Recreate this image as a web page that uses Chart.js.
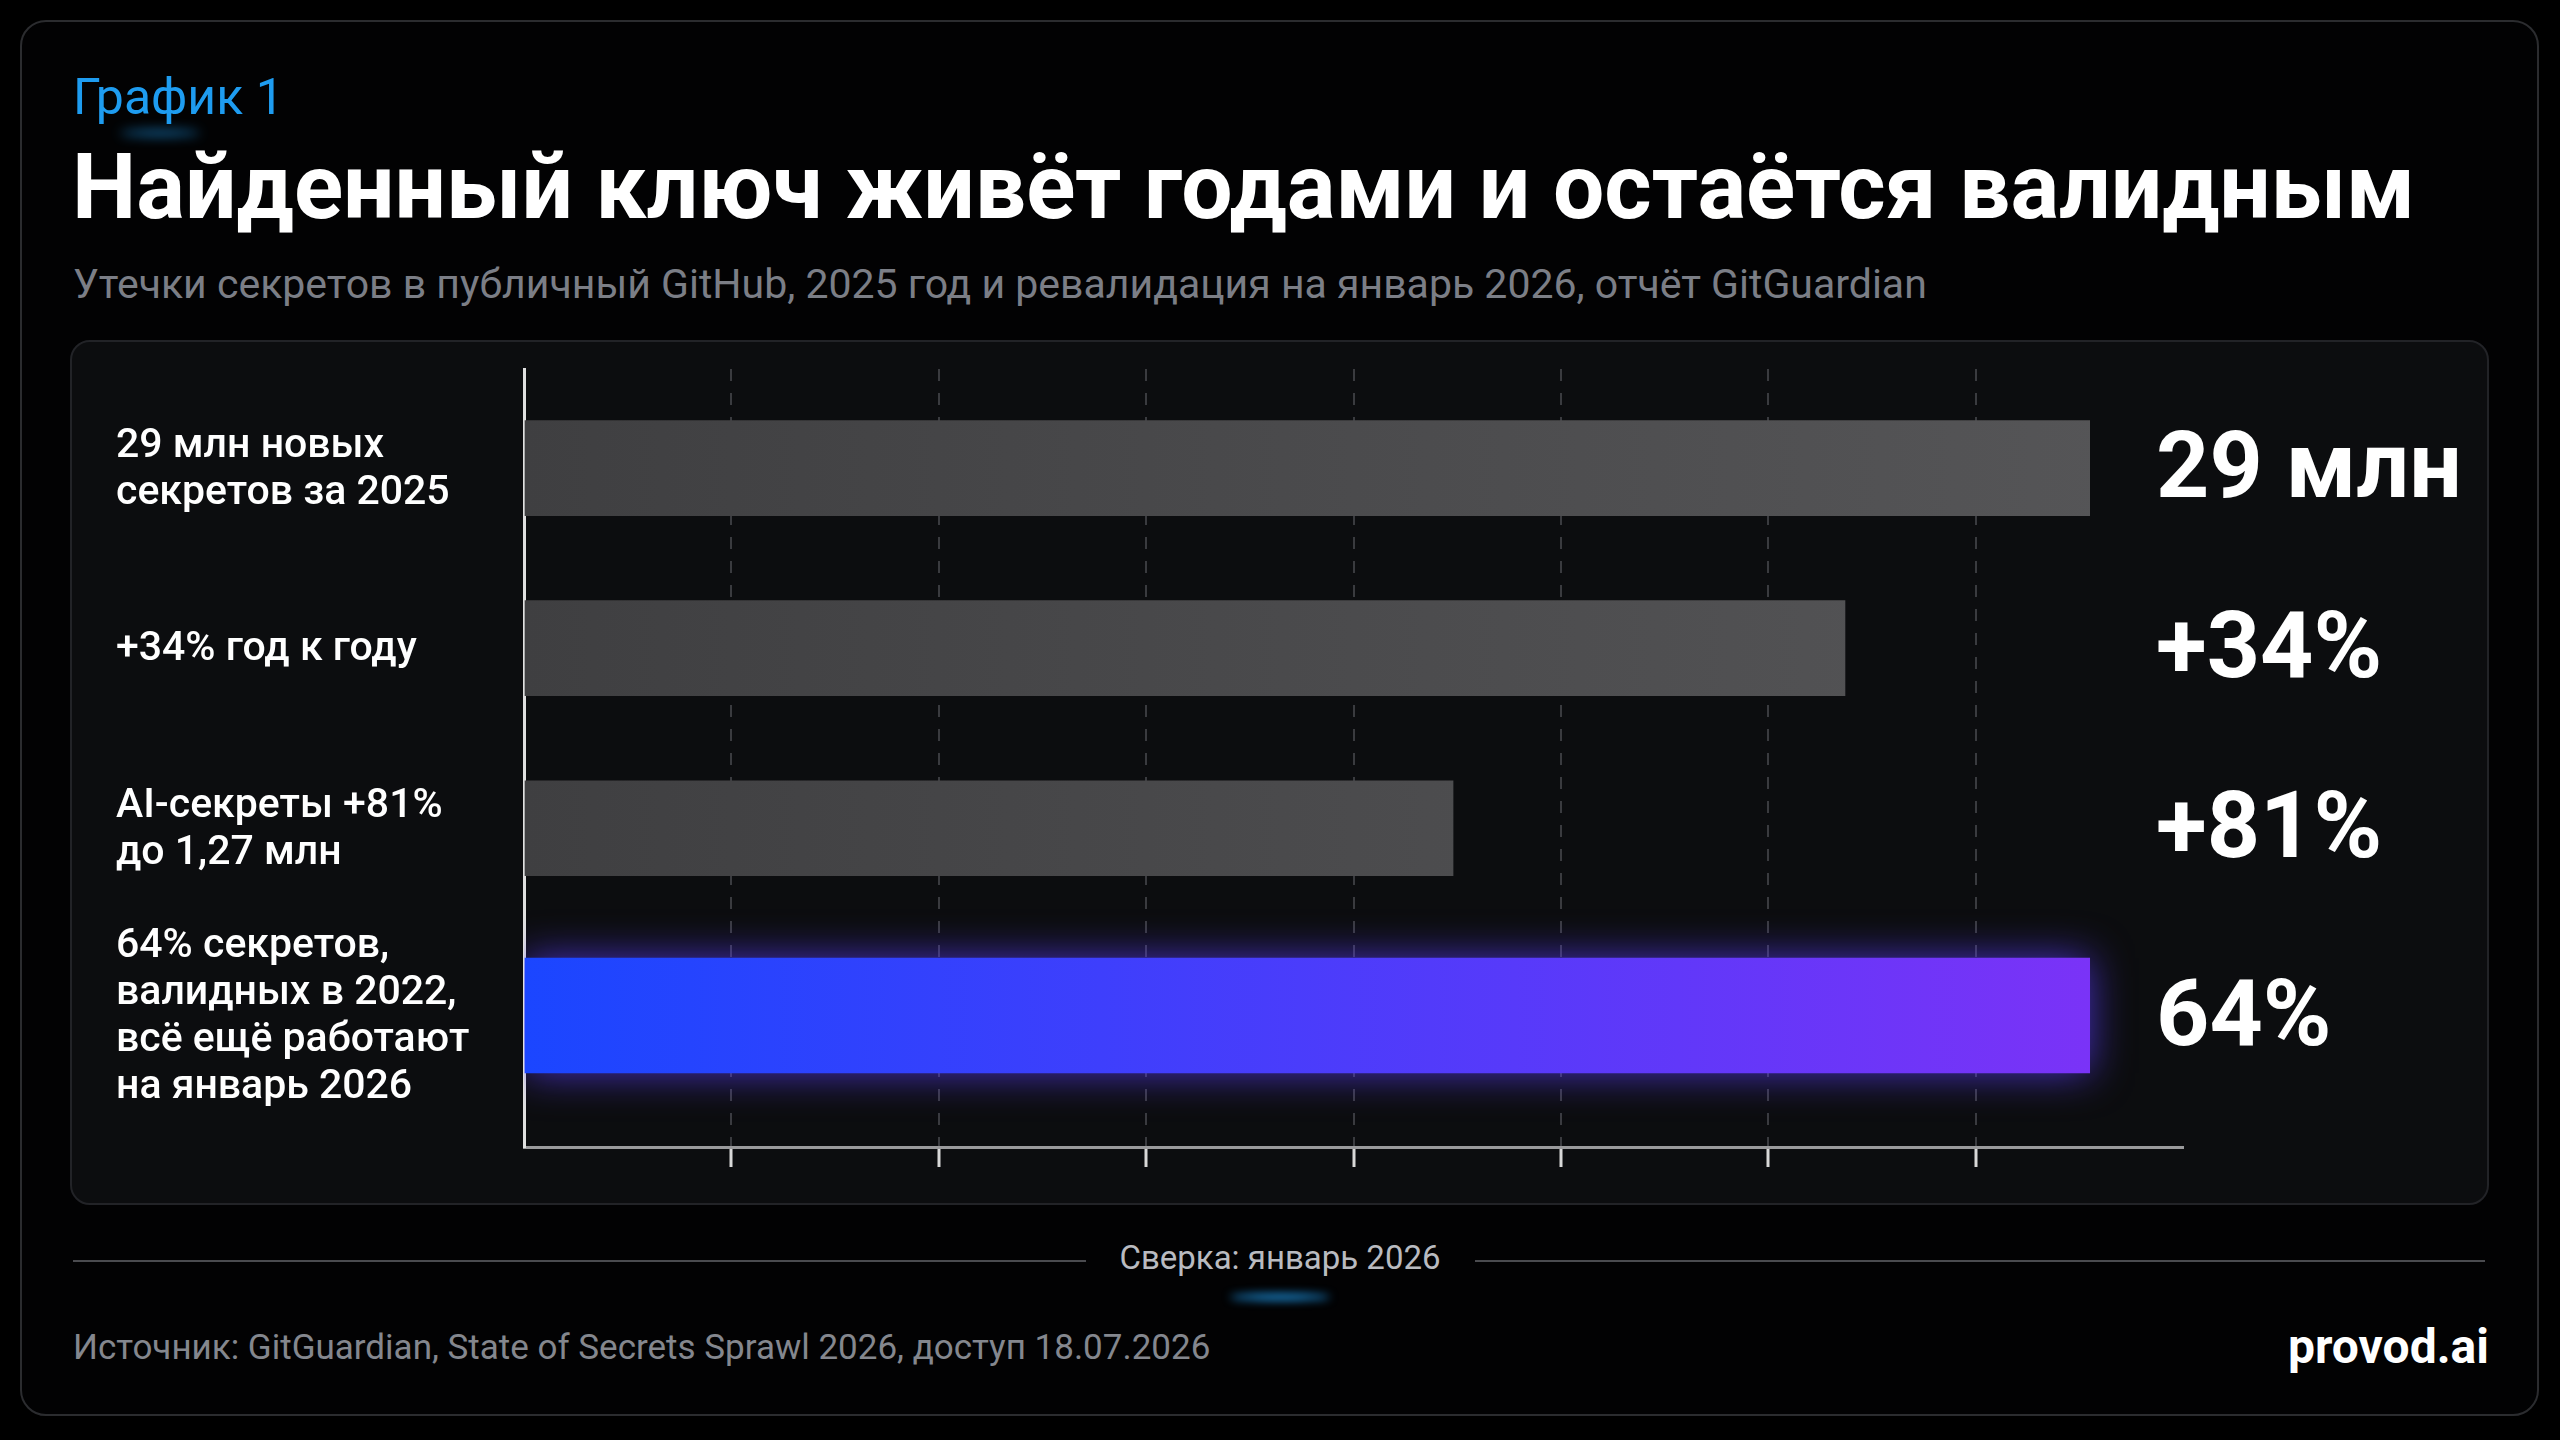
<!DOCTYPE html>
<html><head><meta charset="utf-8">
<script src="https://cdn.jsdelivr.net/npm/chart.js@4.4.1/dist/chart.umd.min.js"></script>
<style>
html,body{margin:0;padding:0;background:#000;width:2560px;height:1440px;overflow:hidden;font-family:Roboto,"Liberation Sans",sans-serif;}
.frame{position:absolute;left:20px;top:20px;width:2519px;height:1396px;border:2px solid #2b2c2f;border-radius:26px;box-sizing:border-box;background:#020203;}
.kicker{position:absolute;left:73px;top:68px;font-size:50px;color:#1e9cf0;font-weight:400;}
.kglow{position:absolute;left:120px;top:130px;width:80px;height:6px;border-radius:50%;background:#1e9cf0;filter:blur(6px);opacity:.7}
.title{position:absolute;left:72px;top:134px;font-size:91px;font-weight:700;color:#fff;white-space:nowrap;}
.sub{position:absolute;left:73px;top:260px;font-size:41px;color:#7b7e86;white-space:nowrap;}
.panel{position:absolute;left:70px;top:340px;width:2419px;height:865px;background:#0c0d0f;border:2px solid #222327;border-radius:20px;box-sizing:border-box;}
#c{position:absolute;left:70px;top:340px;}
.line{position:absolute;top:1260px;height:2px;background:#4a4b4f;}
.sv{position:absolute;left:1086px;width:388px;top:1238px;text-align:center;font-size:33px;color:#b9bbc0;}
.bglow{position:absolute;left:1230px;top:1294px;width:100px;height:6px;border-radius:50%;background:#1e9cf0;filter:blur(5px);}
.src{position:absolute;left:73px;top:1327px;font-size:35px;color:#84878e;white-space:nowrap;}
.brand{position:absolute;right:71px;top:1318px;font-size:48px;font-weight:700;color:#fff;}
</style></head><body>
<div class="frame"></div>
<div class="kicker">График 1</div><div class="kglow"></div>
<div class="title">Найденный ключ живёт годами и остаётся валидным</div>
<div class="sub">Утечки секретов в публичный GitHub, 2025 год и ревалидация на январь 2026, отчёт GitGuardian</div>
<div class="panel"></div>
<canvas id="c" width="2419" height="865" style="width:2419px;height:865px"></canvas>
<div class="line" style="left:73px;width:1013px"></div>
<div class="line" style="left:1475px;width:1010px"></div>
<div class="sv">Сверка: январь 2026</div><div class="bglow"></div>
<div class="src">Источник: GitGuardian, State of Secrets Sprawl 2026, доступ 18.07.2026</div>
<div class="brand">provod.ai</div>
<script>
const categories = [["29 млн новых","секретов за 2025"],["+34% год к году"],["AI-секреты +81%","до 1,27 млн"],["64% секретов,","валидных в 2022,","всё ещё работают","на январь 2026"]];
const barLengths = [7.55, 6.37, 4.48, 7.55];
const valueLabels = ["29 млн","+34%","+81%","64%"];
const rowPositions = [0, 1, 2, 3.04];

const grayData = [0,1,2].map(i=>({x:barLengths[i], y:rowPositions[i]}));
const accentData = [{x:barLengths[3], y:rowPositions[3]}];

const labelsPlugin = {
  id:'labels',
  afterDatasetsDraw(chart){
    const ctx = chart.ctx, xs = chart.scales.x, ys = chart.scales.y;
    ctx.save();
    ctx.fillStyle = '#fff';
    ctx.textBaseline = 'middle';
    ctx.font = '700 93px Roboto, "Liberation Sans", sans-serif';
    ctx.textAlign = 'left';
    valueLabels.forEach((t,i)=>{
      ctx.fillText(t, xs.getPixelForValue(7.87), ys.getPixelForValue(rowPositions[i]) + 6);
    });
    ctx.font = '500 41px Roboto, "Liberation Sans", sans-serif';
    categories.forEach((lines,i)=>{
      const cy = ys.getPixelForValue(rowPositions[i]) + 2;
      const lh = 47;
      lines.forEach((l,j)=>{
        ctx.fillText(l, 46, cy + (j - (lines.length-1)/2)*lh);
      });
    });
    ctx.restore();
  }
};
const glowPlugin = {
  id:'glow',
  beforeDatasetDraw(chart,args){
    if(args.index===1){chart.ctx.save();chart.ctx.shadowColor='rgba(90,60,255,0.75)';chart.ctx.shadowBlur=40;}
  },
  afterDatasetDraw(chart,args){ if(args.index===1) chart.ctx.restore(); }
};

new Chart(document.getElementById('c'), {
  type:'bar',
  data:{datasets:[
    {data:grayData, barThickness:95,
     backgroundColor:(c)=>{const a=c.chart.chartArea; if(!a) return '#444'; const g=c.chart.ctx.createLinearGradient(a.left,0,a.right,0); g.addColorStop(0,'#3f3f41'); g.addColorStop(0.5,'#4b4b4d'); g.addColorStop(1,'#565658'); return g;},
     borderWidth:0},
    {data:accentData, barThickness:115,
     backgroundColor:(c)=>{const a=c.chart.chartArea; if(!a) return '#5533ff'; const g=c.chart.ctx.createLinearGradient(a.left,0,c.chart.scales.x.getPixelForValue(barLengths[3]),0); g.addColorStop(0,'#1b46ff'); g.addColorStop(1,'#7a33f7'); return g;},
     borderWidth:0}
  ]},
  options:{
    indexAxis:'y', responsive:false, animation:false, devicePixelRatio:1,
    grouped:false,
    layout:{padding:{left:454,right:306,top:29,bottom:38}},
    plugins:{legend:{display:false},tooltip:{enabled:false}},
    scales:{
      x:{type:'linear',min:0,max:8,offset:false,
        ticks:{stepSize:1,display:false},
        grid:{color:(c)=>(c.tick && c.tick.value>0 && c.tick.value<8)?'#3a3b3f':'rgba(0,0,0,0)',
              tickColor:(c)=>(c.tick && c.tick.value>0 && c.tick.value<8)?'#d8d8d8':'rgba(0,0,0,0)',
              lineWidth:2, tickLength:20, tickBorderDash:[], tickWidth:3},
        border:{display:true,color:'#9a9a9c',width:3,dash:[12,12]}
      },
      y:{type:'linear',reverse:true,min:-0.55,max:3.77,offset:false,
        ticks:{display:false},
        grid:{display:false,drawTicks:false},
        border:{display:true,color:'#e0e0e0',width:3}
      }
    }
  },
  plugins:[glowPlugin,labelsPlugin]
});
</script>
</body></html>
